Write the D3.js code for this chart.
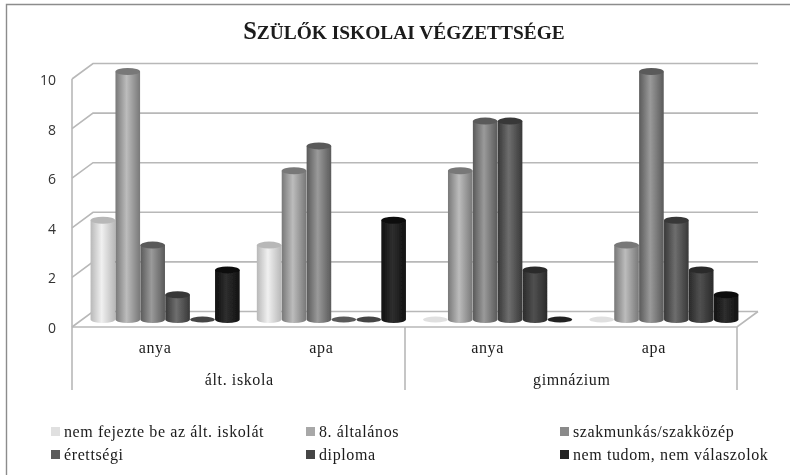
<!DOCTYPE html>
<html lang="en">
<head>
    <meta charset="UTF-8">
    <script src="https://d3js.org/d3.v7.min.js"></script>
    <title>Szülők iskolai végzettsége</title>
    <style>
        html,body { margin:0; padding:0; background:#fff; }
        svg { display:block; }
        text { font-family:"Liberation Serif",serif; fill:#1a1a1a; }
        .tick-label { font-family:"Open Sans",sans-serif; font-size:14px; fill:#333; }
    </style>
</head>
<body>
<div id="container"></div>
<script>
    // data
    var groups = ["ált. iskola","gimnázium"];
    var categories = ["anya","apa","anya","apa"];
    var series = ["nem fejezte be az ált. iskolát","8. általános","szakmunkás/szakközép","érettségi","diploma","nem tudom, nem válaszolok"];
    var noFejezte = [4,3,0,0];
    var nyolcAlt = [10,6,6,3];
    var szakmunkas = [3,7,8,10];
    var erettsegi = [1,0,8,4];
    var diploma = [0,0,2,2];
    var nemTudom = [2,4,0,1];
    var values = [noFejezte,nyolcAlt,szakmunkas,erettsegi,diploma,nemTudom];
    var yTicks = [0,2,4,6,8,10];

    // edge, mid, legend colour per series
    var shades = [
        ["#b8b8b8","#f0f0f0","#e0e0e0"],
        ["#787878","#bcbcbc","#a8a8a8"],
        ["#5a5a5a","#9a9a9a","#8a8a8a"],
        ["#383838","#6e6e6e","#5a5a5a"],
        ["#2a2a2a","#505050","#444444"],
        ["#101010","#2e2e2e","#222222"]
    ];

    var svg_width = 790, svg_height = 475;
    var front = {left:72,right:737,base:327,top:79};
    var depth = {x:21,y:-15.5};

    var svg = d3.select("#container").append("svg")
        .attr("width",svg_width).attr("height",svg_height);
    var defs = svg.append("defs");

    defs.append("filter").attr("id","soft")
        .append("feGaussianBlur").attr("stdDeviation",0.55);

    shades.forEach(function(s,i){
        var g = defs.append("linearGradient").attr("id","cyl"+i);
        g.append("stop").attr("offset","0%").attr("stop-color",s[0]);
        g.append("stop").attr("offset","45%").attr("stop-color",s[1]);
        g.append("stop").attr("offset","100%").attr("stop-color",s[0]);
    });

    // outer border, only top and left are in the picture
    svg.append("path").attr("d","M6.5,475V4.5H790")
        .attr("fill","none").attr("stroke","#8c8c8c").attr("stroke-width",1.4);

    var root = svg.append("g").attr("filter","url(#soft)");

    // scales
    var y = d3.scaleLinear().domain([0,10]).range([front.base,front.top]);
    var x0 = d3.scaleBand().domain(d3.range(categories.length))
        .range([front.left,front.right]);
    var x1 = d3.scaleBand().domain(d3.range(series.length))
        .range([0,149.4]);
    var barOffset = (x0.bandwidth()-149.4)/2 + 10;

    // walls and floor
    var wall = "#b8b8b8";
    yTicks.forEach(function(t){
        root.append("path")
            .attr("d",d3.line()([[front.left,y(t)],[front.left+depth.x,y(t)+depth.y],[front.right+depth.x,y(t)+depth.y]]))
            .attr("fill","none").attr("stroke",wall).attr("stroke-width",1.6);
    });
    root.append("line").attr("x1",front.left).attr("x2",front.left)
        .attr("y1",y(10)).attr("y2",390).attr("stroke",wall).attr("stroke-width",1.6);
    root.append("path")
        .attr("d",d3.line()([[front.left,y(0)],[front.right,y(0)],[front.right+depth.x,y(0)+depth.y]]))
        .attr("fill","none").attr("stroke",wall).attr("stroke-width",1.6);
    root.append("line").attr("x1",front.right).attr("x2",front.right)
        .attr("y1",y(0)).attr("y2",390).attr("stroke",wall).attr("stroke-width",1.6);
    root.append("line").attr("x1",(front.left+front.right)/2+0.5).attr("x2",(front.left+front.right)/2+0.5)
        .attr("y1",y(0)).attr("y2",390).attr("stroke",wall).attr("stroke-width",1.6);

    // y axis labels
    yTicks.forEach(function(t){
        root.append("text").attr("class","tick-label").attr("text-anchor","end")
            .attr("x",56).attr("y",y(t)+6).text(t);
    });

    // cylinders
    var baseY = y(0)-7.5, rx = 12.3, ry = 3.5;
    var unit = (y(0)-y(10))/10;
    categories.forEach(function(c,ci){
        series.forEach(function(s,si){
            var v = values[si][ci];
            var cx = x0(ci)+barOffset+x1(si)+x1.bandwidth()/2;
            var h = v*unit;
            var bar = root.append("g");
            if(v>0){
                bar.append("path")
                    .attr("d","M"+(cx-rx)+","+(baseY-h)+"V"+baseY+"A"+rx+","+ry+" 0 0 0 "+(cx+rx)+","+baseY+"V"+(baseY-h)+"Z")
                    .attr("fill","url(#cyl"+si+")");
                bar.append("ellipse").attr("cx",cx).attr("cy",baseY-h).attr("rx",rx).attr("ry",ry)
                    .attr("fill",shades[si][0]);
            } else {
                bar.append("ellipse").attr("cx",cx).attr("cy",baseY).attr("rx",rx).attr("ry",ry-0.5)
                    .attr("fill",shades[si][2]);
            }
        });
    });

    // category labels
    categories.forEach(function(c,ci){
        root.append("text").attr("x",x0(ci)+x0.bandwidth()/2).attr("y",353)
            .attr("text-anchor","middle").attr("font-size",16).style("letter-spacing","0.6px").text(c);
    });
    groups.forEach(function(g,gi){
        root.append("text").attr("x",front.left+(front.right-front.left)*(gi*2+1)/4+1).attr("y",385)
            .attr("text-anchor","middle").attr("font-size",16).style("letter-spacing","0.6px").text(g);
    });

    // title, small caps drawn with two sizes
    var title = root.append("text").attr("x",404).attr("y",39).attr("text-anchor","middle")
        .attr("font-weight","bold").attr("font-size",19.4);
    title.append("tspan").attr("font-size",24.4).text("S");
    title.append("tspan").text("ZÜLŐK ISKOLAI VÉGZETTSÉGE");

    // legend
    var legendX = [51,306,560], legendY = [433,456];
    series.forEach(function(s,i){
        var lx = legendX[i%3], ly = legendY[Math.floor(i/3)];
        root.append("rect").attr("x",lx).attr("y",ly-6).attr("width",9).attr("height",9)
            .attr("fill",shades[i][2]);
        root.append("text").attr("x",lx+13).attr("y",ly+4).attr("font-size",16)
            .style("letter-spacing","0.6px").text(s);
    });
</script>
</body>
</html>
